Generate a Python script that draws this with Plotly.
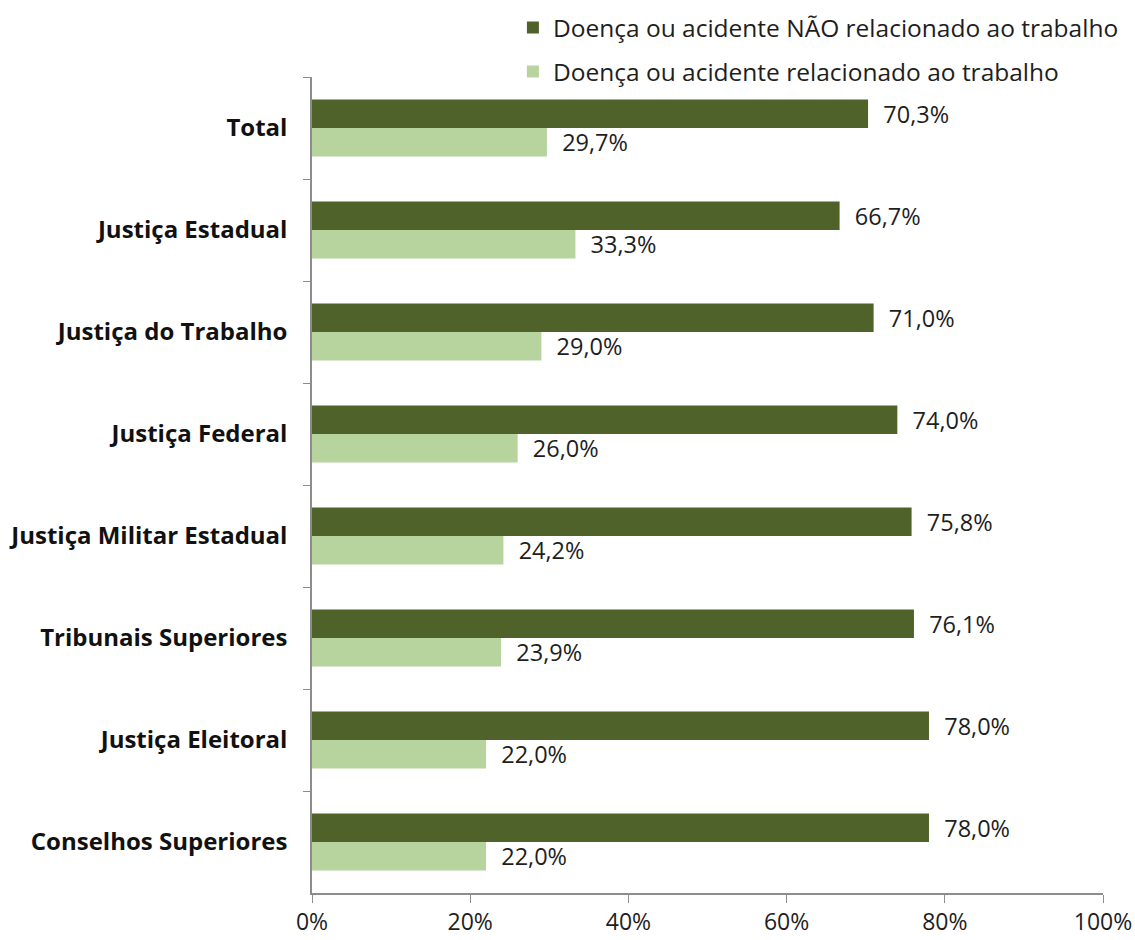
import plotly.graph_objects as go

categorias = [
    "Total",
    "Justiça Estadual",
    "Justiça do Trabalho",
    "Justiça Federal",
    "Justiça Militar Estadual",
    "Tribunais Superiores",
    "Justiça Eleitoral",
    "Conselhos Superiores",
]
nao_relacionado = [70.3, 66.7, 71.0, 74.0, 75.8, 76.1, 78.0, 78.0]
relacionado = [29.7, 33.3, 29.0, 26.0, 24.2, 23.9, 22.0, 22.0]

nome_nao = "Doença ou acidente NÃO relacionado ao trabalho"
nome_rel = "Doença ou acidente relacionado ao trabalho"

FONT = "Open Sans"
COR_ESCURA = "#4E6229"
COR_CLARA = "#B7D39E"
COR_TEXTO = "#1E1E1E"


def rotulo(v):
    return "\u00a0\u00a0" + f"{v:.1f}".replace(".", ",") + "%"


fig = go.Figure()
for nome, valores, cor, grupo in [
    (nome_nao, nao_relacionado, COR_ESCURA, "a"),
    (nome_rel, relacionado, COR_CLARA, "b"),
]:
    fig.add_trace(go.Bar(
        name=nome,
        y=categorias,
        x=[v / 100 for v in valores],
        orientation="h",
        marker=dict(color=cor, line=dict(width=0)),
        text=[rotulo(v) for v in valores],
        textposition="outside",
        constraintext="none",
        textfont=dict(family=FONT, size=23.5, color=COR_TEXTO),
        cliponaxis=False,
        legendgroup=grupo,
    ))

fig.update_layout(
    width=1135,
    height=940,
    margin=dict(l=312, r=32, t=77, b=47, autoexpand=False),
    paper_bgcolor="white",
    plot_bgcolor="white",
    barmode="group",
    bargap=0.44,
    bargroupgap=0,
    font=dict(family=FONT, size=23, color=COR_TEXTO),
    legend=dict(
        x=0.254, xanchor="left",
        y=1.088, yanchor="top",
        traceorder="grouped",
        tracegroupgap=9,
        font=dict(family=FONT, size=24.5, color=COR_TEXTO),
        bgcolor="rgba(0,0,0,0)",
    ),
    xaxis=dict(
        range=[0, 1],
        dtick=0.2,
        tickformat=".0%",
        showgrid=False,
        zeroline=False,
        showline=True,
        linecolor="#8C8C8C",
        linewidth=1.5,
        ticks="outside",
        ticklen=8,
        tickcolor="#8C8C8C",
        automargin=False,
        tickfont=dict(family=FONT, size=23, color=COR_TEXTO),
    ),
    yaxis=dict(
        autorange="reversed",
        showgrid=False,
        showline=True,
        linecolor="#8C8C8C",
        linewidth=1.5,
        ticks="outside",
        tickson="boundaries",
        ticklen=7,
        tickcolor="#8C8C8C",
        ticklabelstandoff=18,
        automargin=False,
        tickfont=dict(family=FONT, size=24, color="#111111", weight="bold"),
    ),
)

fig.write_html("out.html")
